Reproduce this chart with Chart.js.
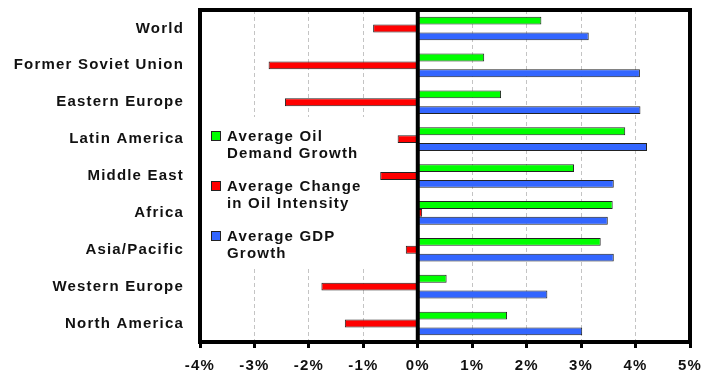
<!DOCTYPE html>
<html>
<head>
<meta charset="utf-8">
<script src="https://cdn.jsdelivr.net/npm/chart.js@4.4.1/dist/chart.umd.min.js"></script>
<style>
  html, body { margin: 0; padding: 0; background: #fff; }
  #wrap { width: 704px; height: 376px; }
</style>
</head>
<body>
<div id="wrap"><canvas id="graf"></canvas></div>
<script>
/* Croissance pétrolière, intensité et PIB par région (% par an) */
const REGIONS = [
  "World", "Former Soviet Union", "Eastern Europe", "Latin America",
  "Middle East", "Africa", "Asia/Pacific", "Western Europe", "North America"
];
const DEMANDE_PETROLE = [2.27, 1.22, 1.53, 3.81, 2.87, 3.58, 3.36, 0.53, 1.64];
const INTENSITE_PETROLE = [-0.82, -2.74, -2.44, -0.37, -0.69, 0.08, -0.22, -1.77, -1.34];
const PIB = [3.14, 4.08, 4.09, 4.21, 3.60, 3.49, 3.60, 2.38, 3.02];
const TICKS_X = [-4, -3, -2, -1, 0, 1, 2, 3, 4, 5];

const SERIES = [
  { lignes: ["Average Oil", "Demand Growth"], data: DEMANDE_PETROLE, cor: "#00ff00" },
  { lignes: ["Average Change", "in Oil Intensity"], data: INTENSITE_PETROLE, cor: "#ff0000" },
  { lignes: ["Average GDP", "Growth"], data: PIB, cor: "#3366ff" },
];

const POLICE = "'Liberation Sans', Arial, sans-serif";
const ESPACEMENT = "1.2px";

// espacement des lettres, remis à chaque mise en page (le canvas le perd au redimensionnement)
const lettres = {
  id: "lettres",
  beforeLayout(chart) { chart.ctx.letterSpacing = ESPACEMENT; },
  beforeDraw(chart) { chart.ctx.letterSpacing = ESPACEMENT; },
};

// cadre noir épais, ligne du zéro et légende en encart
const cadre = {
  id: "cadre",
  beforeDatasetsDraw(chart) {
    const { ctx, chartArea: a } = chart;
    ctx.save();
    ctx.fillStyle = "#fff";
    ctx.fillRect(a.left + 2, a.top + 107, 168, 152);
    ctx.font = "bold 15px " + POLICE;
    ctx.letterSpacing = ESPACEMENT;
    ctx.textBaseline = "alphabetic";
    ctx.textAlign = "left";
    SERIES.forEach((s, i) => {
      const y0 = a.top + 121 + i * 50;
      ctx.fillStyle = s.cor;
      ctx.fillRect(a.left + 11, y0, 10, 10);
      ctx.strokeStyle = "#222";
      ctx.lineWidth = 1;
      ctx.strokeRect(a.left + 11.5, y0 + 0.5, 9, 9);
      ctx.fillStyle = "#111";
      s.lignes.forEach((t, j) => ctx.fillText(t, a.left + 27, y0 + 10 + j * 17));
    });
    ctx.restore();
  },
  afterDatasetsDraw(chart) {
    const { ctx, chartArea: a, scales: { x } } = chart;
    ctx.save();
    ctx.strokeStyle = "#000";
    ctx.lineWidth = 4;
    ctx.strokeRect(a.left, a.top, a.right - a.left, a.bottom - a.top);
    const x0 = x.getPixelForValue(0);
    ctx.beginPath();
    ctx.moveTo(x0, a.top);
    ctx.lineTo(x0, a.bottom);
    ctx.stroke();
    ctx.restore();
  },
};

new Chart(document.getElementById("graf"), {
  type: "bar",
  data: {
    labels: REGIONS,
    datasets: SERIES.map(s => ({
      label: s.lignes.join(" "),
      data: s.data,
      backgroundColor: s.cor,
      borderColor: "#222",
      borderWidth: 1,
      borderSkipped: false,
      categoryPercentage: 0.64,
      barPercentage: 1.0,
    })),
  },
  options: {
    indexAxis: "y",
    responsive: true,
    maintainAspectRatio: false,
    animation: false,
    layout: { padding: { top: 10, right: 14, left: 0, bottom: 0 } },
    plugins: { legend: { display: false }, tooltip: { enabled: false } },
    scales: {
      x: {
        min: -4,
        max: 5,
        afterBuildTicks: axis => { axis.ticks = TICKS_X.map(v => ({ value: v })); },
        afterFit: axis => {
          axis.height = 34;
          axis.paddingLeft = 0;
          axis.paddingRight = 0;
        },
        border: { display: false, dash: [4, 3] },
        grid: {
          color: c => [-4, 0, 5].includes(c.tick.value) ? "rgba(0,0,0,0)" : "#c4c4c4",
          lineWidth: 1,
          tickLength: 6,
          tickColor: "#000",
          tickWidth: 3,
        },
        ticks: {
          callback: v => v + "%",
          color: "#111",
          font: { family: POLICE, size: 15, weight: "bold" },
          padding: 9,
          maxRotation: 0,
        },
      },
      y: {
        afterFit: axis => {
          axis.width = 200;
          axis.paddingTop = 0;
          axis.paddingBottom = 0;
        },
        border: { display: false },
        grid: { display: false, drawTicks: false },
        ticks: {
          color: "#111",
          font: { family: POLICE, size: 15, weight: "bold" },
          padding: 16,
        },
      },
    },
  },
  plugins: [lettres, cadre],
});
</script>
</body>
</html>
